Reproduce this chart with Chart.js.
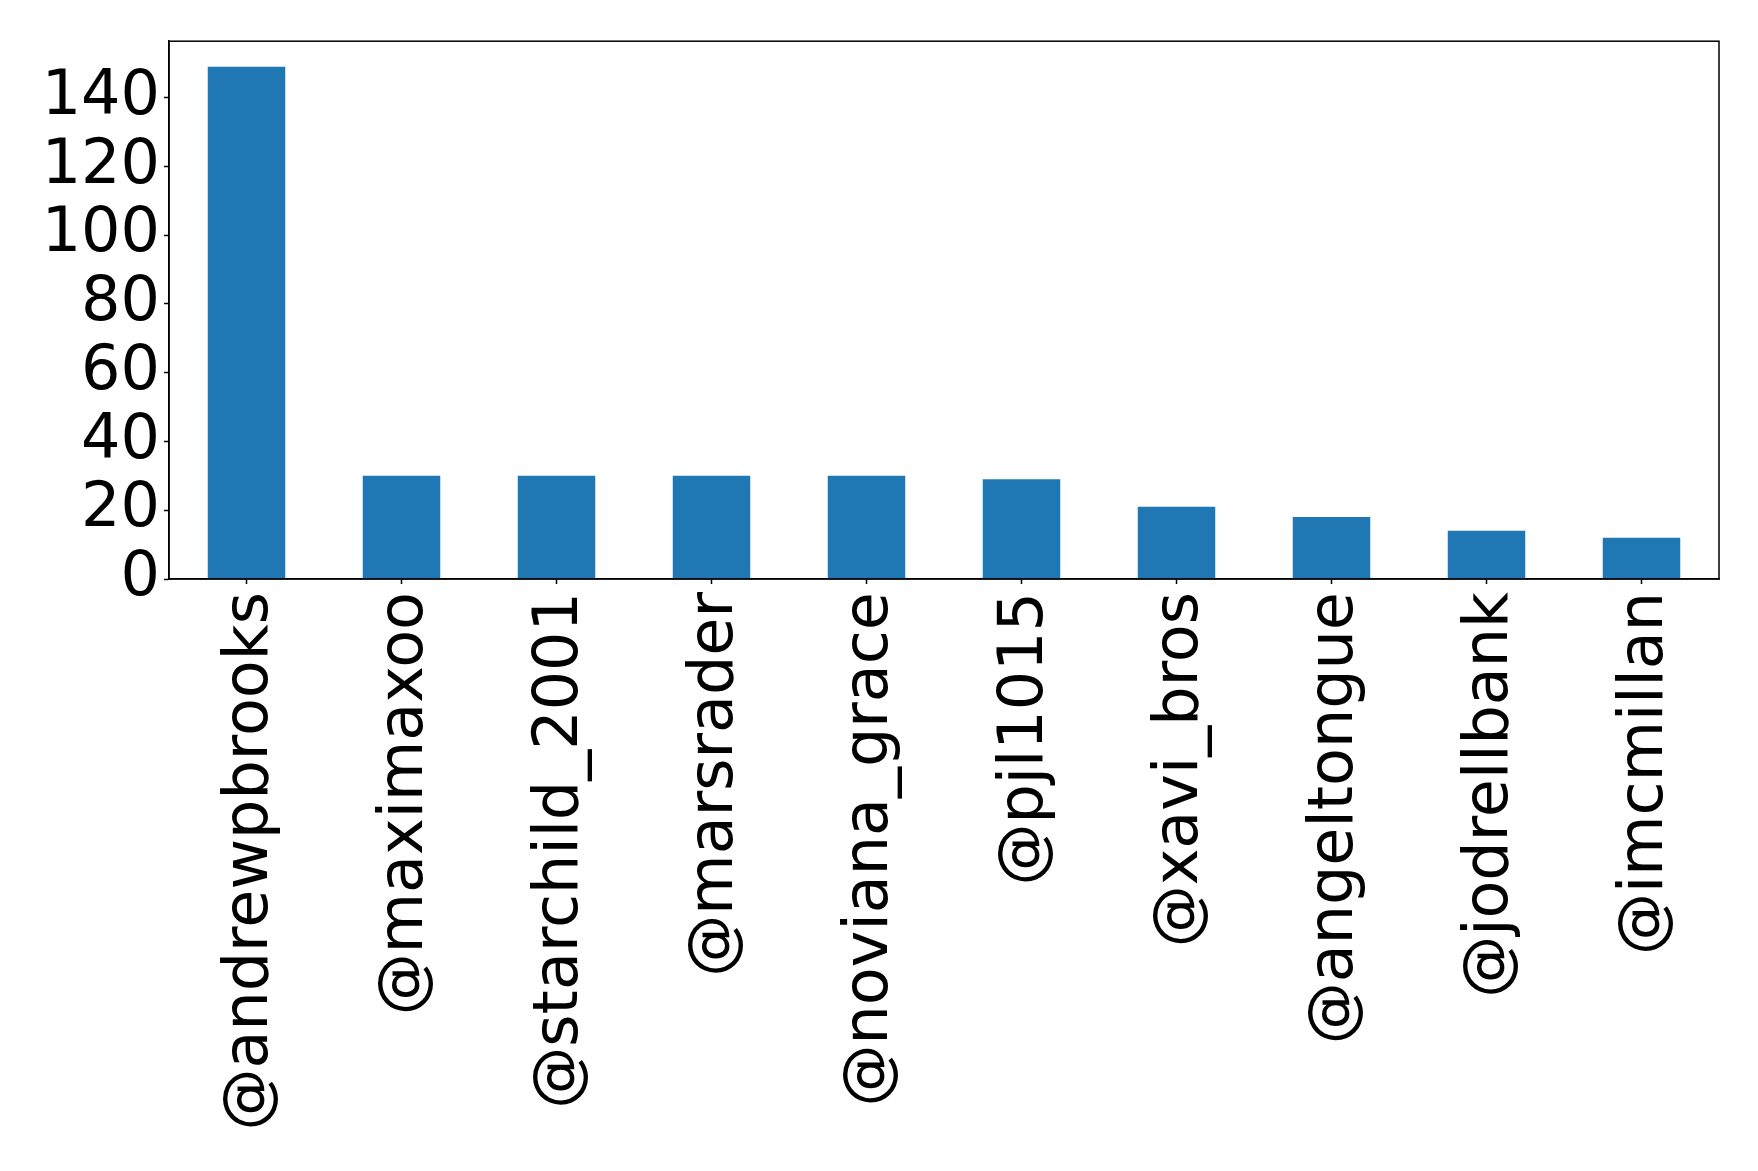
<!DOCTYPE html>
<html>
<head>
<meta charset="utf-8">
<script src="https://cdn.jsdelivr.net/npm/chart.js@4"></script>
<style>
  html, body { margin: 0; padding: 0; background: #fff; }
  #wrap { width: 1758px; height: 1171px; position: relative; }
</style>
</head>
<body>
<div id="wrap"><canvas id="c"></canvas></div>
<script>
const categories = ["@andrewpbrooks", "@maximaxoo", "@starchild_2001", "@marsrader", "@noviana_grace",
                    "@pjl1015", "@xavi_bros", "@angeltongue", "@jodrellbank", "@imcmillan"];
const counts = [149, 30, 30, 30, 30, 29, 21, 18, 14, 12];
const yTickStep = 20;

const barColor = "#1f77b4";
const fontFamily = "'DejaVu Sans', sans-serif";

const framePlugin = {
  id: 'frame',
  afterDraw(chart) {
    const a = chart.chartArea, ctx = chart.ctx;
    ctx.save();
    ctx.strokeStyle = '#000';
    ctx.lineWidth = 1.5;
    ctx.strokeRect(a.left, a.top, a.right - a.left, a.bottom - a.top);
    ctx.restore();
  }
};

new Chart(document.getElementById('c'), {
  type: 'bar',
  data: {
    labels: categories,
    datasets: [{
      data: counts,
      backgroundColor: barColor,
      borderWidth: 0,
      categoryPercentage: 1.0,
      barPercentage: 0.5
    }]
  },
  options: {
    responsive: true,
    maintainAspectRatio: false,
    animation: false,
    devicePixelRatio: 1,
    layout: { padding: { top: 41, right: 39, left: 0, bottom: 0 } },
    plugins: { legend: { display: false }, tooltip: { enabled: false } },
    scales: {
      x: {
        offset: true,
        grid: { display: true, drawOnChartArea: false, drawTicks: true, tickLength: 5,
                tickColor: '#000', tickWidth: 1.5, offset: false },
        border: { display: true, color: '#000', width: 1.5 },
        ticks: { autoSkip: false, minRotation: 90, maxRotation: 90, padding: 8, labelOffset: 4,
                 color: '#000', font: { family: fontFamily, size: 62 } },
        afterFit(scale) { scale.height = 592; }
      },
      y: {
        min: 0,
        max: Math.max(...counts) * 1.05,
        grid: { display: true, drawOnChartArea: false, drawTicks: true, tickLength: 5,
                tickColor: '#000', tickWidth: 1.5 },
        border: { display: true, color: '#000', width: 1.5 },
        ticks: { stepSize: yTickStep, includeBounds: false, autoSkip: false, padding: 4, color: '#000',
                 font: { family: fontFamily, size: 62 } },
        afterFit(scale) { scale.width = 169; }
      }
    }
  },
  plugins: [framePlugin]
});
</script>
</body>
</html>
